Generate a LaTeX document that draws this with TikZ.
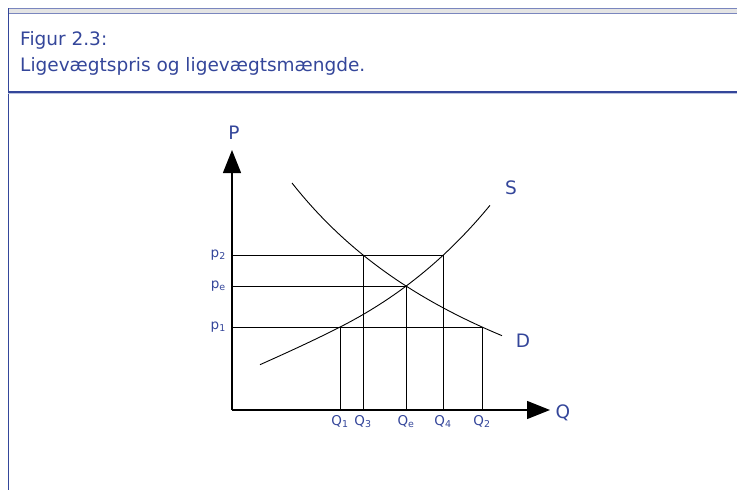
\documentclass[tikz,border=0pt]{standalone}
\usepackage{fontspec}
\setmainfont{DejaVu Sans}
\usepackage{xcolor}
\usetikzlibrary{positioning,arrows.meta}
\definecolor{capblue}{HTML}{34469A}
\definecolor{barblue}{HTML}{7A86BE}
\definecolor{bargray}{HTML}{E4E4E4}

\begin{document}
\begin{tikzpicture}[x=1pt, y=-1pt,
  axis/.style={line width=1.4pt, -{Triangle[length=23pt, width=18pt]}},
  guide/.style={line width=0.9pt},
  curve/.style={line width=0.9pt},
  captext/.style={anchor=base west, inner sep=0pt, font=\fontsize{18.5}{22}\selectfont, text=capblue},
  big/.style={inner sep=0pt, font=\fontsize{18.5}{20}\selectfont, text=capblue},
  ticklabel/.style={inner sep=0pt, font=\fontsize{13.5}{15}\selectfont, text=capblue}]
  \useasboundingbox (0,0) rectangle (737,490);
  % frame and caption
  \fill[bargray] (8,8.5) rectangle (737,13.5);
  \draw[barblue, line width=1pt] (8,8.5) -- (737,8.5);
  \draw[barblue, line width=1pt] (8,13.5) -- (737,13.5);
  \draw[capblue, line width=1pt] (8,8) -- (8,490);
  \draw[capblue, line width=1.2pt] (8,92) -- (737,92);
  \draw[barblue!50, line width=0.8pt] (8,93.3) -- (737,93.3);
  \node[captext] (fig) at (20,45.5) {Figur 2.3:};
  \node[captext] (title) at (20,71) {Ligevægtspris og ligevægtsmængde.};
  % points
  \coordinate (o) at (232,410);
  \coordinate (ytop) at (232,150);
  \coordinate (xend) at (550,410);
  \coordinate (e) at (406,286);
  \coordinate (a2) at (363,255);
  \coordinate (b2) at (443,255);
  \coordinate (a1) at (340,327);
  \coordinate (b1) at (482,327);
  % axes
  \draw[axis] (o) -- (ytop);
  \draw[axis] (o) -- (xend);
  \node[big] (P) at (234,133) {P};
  \node[big] (Q) at (563,413) {Q};
  % guides
  \draw[guide] (o |- b2) -- (b2) -- (b2 |- o);
  \draw[guide] (a2) -- (a2 |- o);
  \draw[guide] (o |- e) -- (e) -- (e |- o);
  \draw[guide] (o |- b1) -- (b1) -- (b1 |- o);
  \draw[guide] (a1) -- (a1 |- o);
  % curves
  \draw[curve] plot[domain=260:490, samples=60] (\x, {410 - (46.69*exp(0.00582*(\x-232)) - 4.54) + 0.0008*max(0,340-\x)^2});
  \draw[curve] plot[domain=292:502, samples=60] (\x, {410 - (1006.47/((\x-10.4)/100) - 130.4)});
  \node[big] (S) at (511,188) {S};
  \node[big] (D) at (523,341) {D};
  % labels
  \node[ticklabel, left=6pt of o |- b2] (p2) {p\textsubscript{2}};
  \node[ticklabel, left=6pt of o |- e] (pe) {p\textsubscript{e}};
  \node[ticklabel, left=6pt of o |- b1] (p1) {p\textsubscript{1}};
  \node[ticklabel, below=5pt of a1 |- o] (q1) {Q\textsubscript{1}};
  \node[ticklabel, below=5pt of a2 |- o] (q3) {Q\textsubscript{3}};
  \node[ticklabel, below=5pt of e |- o] (qe) {Q\textsubscript{e}};
  \node[ticklabel, below=5pt of b2 |- o] (q4) {Q\textsubscript{4}};
  \node[ticklabel, below=5pt of b1 |- o] (q2) {Q\textsubscript{2}};
\end{tikzpicture}
\end{document}
